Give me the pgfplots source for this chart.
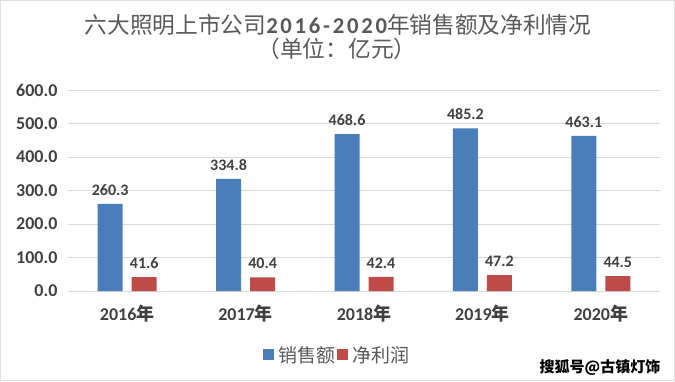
\documentclass[border=0pt]{standalone}
\usepackage{fontspec}
\setmainfont{Carlito}
\newfontfamily\cjk{Noto Sans CJK SC}
\newfontfamily\ttldigits[LetterSpace=12]{Carlito}
\usepackage{pgfplots}
\pgfplotsset{compat=1.18}
\definecolor{sblue}{HTML}{4A7EBB}
\definecolor{sred}{HTML}{BE4B48}
\definecolor{txt}{HTML}{404040}
\definecolor{ttl}{HTML}{595959}
\definecolor{gridc}{HTML}{D9D9D9}
\begin{document}
\begin{tikzpicture}[x=1pt,y=1pt]
\useasboundingbox (0,0) rectangle (675,381);
\draw[gray!25, line width=1.2pt] (0.6,0.6) rectangle (674.4,380.4);
\begin{axis}[
  at={(68pt,90pt)}, anchor=south west,
  scale only axis, width=592pt, height=201pt,
  xmin=-0.5, xmax=4.5, ymin=0, ymax=600,
  ytick={0,100,...,600},
  xtick={0,1,2,3,4},
  xticklabels={2016{\cjk 年},2017{\cjk 年},2018{\cjk 年},2019{\cjk 年},2020{\cjk 年}},
  /pgf/number format/assume math mode=true,
  yticklabel={\pgfmathprintnumber[fixed,fixed zerofill,precision=1]{\tick}},
  ticklabel style={font=\fontsize{18}{18}\selectfont\bfseries, text=txt},
  xticklabel style={yshift=-11pt},
  yticklabel style={xshift=-7pt},
  axis line style={draw=none},
  major tick length=0pt,
  ymajorgrids, grid style={gridc, line width=0.8pt},
  ybar, bar width=25pt,
  nodes near coords={\pgfmathprintnumber[fixed,fixed zerofill,precision=1]{\pgfplotspointmeta}},
  nodes near coords style={font=\fontsize{16}{16}\selectfont\bfseries, text=txt, yshift=5pt},
  legend style={at={(0.455,-0.318)}, anchor=center, draw=none, fill=none,
    legend columns=2, font=\fontsize{19}{19}\selectfont\cjk, text=ttl,
    /tikz/every odd column/.append style={column sep=2pt},
    /tikz/every even column/.append style={column sep=0pt}},
  legend image code/.code={\fill[#1] (0pt,-5.5pt) rectangle (11pt,5.5pt);},
]
\addplot[fill=sblue, draw=none, bar shift=-17pt] coordinates {(0,260.3) (1,334.8) (2,468.6) (3,485.2) (4,463.1)};
\addplot[fill=sred, draw=none, bar shift=17pt] coordinates {(0,41.6) (1,40.4) (2,42.4) (3,47.2) (4,44.5)};
\legend{销售额,净利润}
\end{axis}
\node[text=ttl, font=\fontsize{22.7}{22.7}\selectfont, inner sep=0pt] at (338,356) {{\cjk 六大照明上市公司}{\ttldigits\bfseries 2016-2020}{\cjk 年销售额及净利情况}};
\node[text=ttl, font=\fontsize{22.7}{22.7}\selectfont\cjk, inner sep=0pt] at (337,332) {（单位：亿元）};
\node[text=black, font=\fontsize{15}{15}\selectfont\cjk\bfseries] at (600,13) {搜狐号@古镇灯饰};
\end{tikzpicture}
\end{document}
